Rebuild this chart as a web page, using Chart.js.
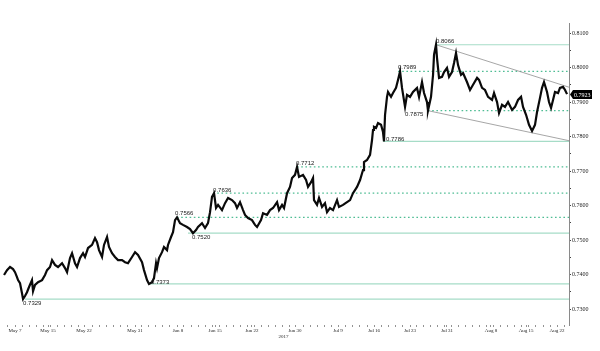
<!DOCTYPE html>
<html>
<head>
<meta charset="utf-8">
<script src="https://cdn.jsdelivr.net/npm/chart.js@4"></script>
<style>
  html, body { margin: 0; padding: 0; background: #fff; }
  #c { display: block; }
</style>
</head>
<body>
<canvas id="c" width="600" height="351"></canvas>
<script>
// ---- DATA (x = trading-day index from May 7, 2017; y = price) ----
const days = [-1.56,-1.14,-0.71,-0.28,0,0.28,0.43,0.71,0.99,1.14,1.42,1.70,1.99,2.41,2.56,2.84,3.27,3.84,4.26,4.55,4.97,5.26,5.68,6.11,6.68,7.10,7.39,7.81,8.10,8.52,8.81,9.23,9.66,9.94,10.37,10.94,11.36,11.65,11.93,12.36,12.64,13.07,13.35,13.78,14.20,14.63,15.20,15.63,16.05,16.62,17.05,17.47,18.04,18.32,18.75,19.03,19.46,19.74,20.03,20.17,20.45,20.88,21.16,21.59,21.73,22.16,22.44,22.73,23.01,23.44,23.86,24.43,24.86,25.28,25.71,25.99,26.56,26.99,27.41,27.70,27.98,28.27,28.55,28.84,29.40,29.83,30.26,30.82,31.25,31.53,31.96,32.39,32.67,33.10,33.66,34.09,34.38,34.94,35.23,35.80,36.22,36.65,37.22,37.50,37.93,38.21,38.64,39.06,39.35,39.77,40.06,40.34,40.91,41.34,41.62,42.05,42.33,42.47,42.90,43.18,43.61,44.03,44.32,44.74,45.17,45.74,46.02,46.59,47.16,47.59,48.01,48.58,49.01,49.43,49.57,50.00,50.43,50.71,50.85,50.99,51.28,51.56,51.99,52.27,52.41,52.56,52.84,52.98,53.41,53.69,54.12,54.40,54.69,54.97,55.40,55.68,56.11,56.53,57.10,57.39,57.81,58.10,58.52,58.66,59.09,59.38,59.52,59.80,59.94,60.23,60.65,60.94,61.36,61.65,62.07,62.36,62.64,62.93,63.35,63.64,64.20,64.63,65.06,65.63,65.91,66.34,66.76,67.19,67.76,68.04,68.47,68.75,69.18,69.60,70.03,70.60,71.02,71.45,71.88,72.16,72.59,73.01,73.44,73.86,74.15,74.57,74.86,75.14,75.57,75.85,76.14,76.42,76.70,77.13,77.41,77.84,78.13,78.41];
const prices = [0.7399,0.7413,0.7422,0.7416,0.7407,0.7393,0.7384,0.7375,0.7346,0.7329,0.7338,0.7349,0.7364,0.7384,0.7352,0.7370,0.7378,0.7384,0.7399,0.7413,0.7422,0.7442,0.7428,0.7422,0.7433,0.7419,0.7407,0.7448,0.7462,0.7433,0.7422,0.7448,0.7462,0.7451,0.7477,0.7486,0.7506,0.7494,0.7471,0.7451,0.7486,0.7509,0.7480,0.7462,0.7451,0.7442,0.7442,0.7436,0.7433,0.7451,0.7465,0.7457,0.7436,0.7413,0.7384,0.7373,0.7378,0.7390,0.7433,0.7419,0.7448,0.7465,0.7480,0.7471,0.7486,0.7509,0.7523,0.7558,0.7566,0.7549,0.7544,0.7538,0.7532,0.7520,0.7529,0.7538,0.7549,0.7535,0.7549,0.7581,0.7625,0.7636,0.7593,0.7602,0.7587,0.7607,0.7622,0.7616,0.7607,0.7593,0.7610,0.7587,0.7573,0.7564,0.7558,0.7544,0.7538,0.7558,0.7578,0.7573,0.7587,0.7593,0.7610,0.7587,0.7602,0.7593,0.7636,0.7654,0.7680,0.7689,0.7712,0.7683,0.7689,0.7674,0.7654,0.7668,0.7680,0.7616,0.7602,0.7622,0.7596,0.7607,0.7581,0.7593,0.7587,0.7616,0.7596,0.7602,0.7610,0.7616,0.7636,0.7654,0.7674,0.7703,0.7726,0.7732,0.7747,0.7790,0.7819,0.7828,0.7825,0.7839,0.7834,0.7813,0.7786,0.7863,0.7915,0.7929,0.7915,0.7926,0.7941,0.7964,0.7989,0.7941,0.7886,0.7921,0.7915,0.7929,0.7941,0.7915,0.7958,0.7926,0.7900,0.7875,0.7915,0.7979,0.8037,0.8066,0.8028,0.7970,0.7973,0.7987,0.7999,0.7973,0.7987,0.8013,0.8042,0.8007,0.7979,0.7984,0.7958,0.7935,0.7950,0.7970,0.7964,0.7941,0.7935,0.7915,0.7906,0.7926,0.7900,0.7868,0.7892,0.7886,0.7900,0.7877,0.7886,0.7906,0.7915,0.7886,0.7863,0.7834,0.7816,0.7834,0.7871,0.7912,0.7941,0.7958,0.7929,0.7900,0.7883,0.7906,0.7929,0.7926,0.7941,0.7944,0.7935,0.7923];

const xTickDays   = [0, 4.69, 9.80, 17.05, 23.15, 28.41, 33.66, 39.77, 45.88, 51.0, 56.11, 61.36, 67.61, 72.59, 76.99];
const xTickLabels = ['May 7','May 15','May 22','May 31','Jun 8','Jun 15','Jun 22','Jun 30','Jul 9','Jul 16','Jul 23','Jul 31','Aug 8','Aug 15','Aug 22'];
const yearLabel = '2017';

const yTickValues = [0.7300,0.7350,0.7400,0.7450,0.7500,0.7550,0.7600,0.7650,0.7700,0.7750,0.7800,0.7850,0.7900,0.7950,0.8000,0.8050,0.8100];

// support / resistance levels
const levelValues    = [0.7329, 0.7373, 0.7566, 0.7520, 0.7636, 0.7712, 0.7786, 0.7989, 0.7875, 0.8066];
const levelStartDays = [1.42,   19.03,  23.01,  24.57,  28.13,  40.06,  52.27,  54.40,  58.66,  59.80];
const levelSolid     = [true,   true,   false,  true,   false,  false,  true,   false,  false,  true];
const levelLabelDays = [1.14,   19.3,   22.73,  25.14,  28.13,  39.91,  52.7,   54.4,   55.4,   59.8];
// trend channel
const channelUpper = [[59.80, 0.8066], [78.69, 0.7943]];
const channelLower = [[58.66, 0.7875], [78.69, 0.7788]];

const lastPrice = prices[prices.length - 1];

// ---- STYLE / LAYOUT ----
const X_MIN = -1.85, X_MAX = 78.69;
const Y_MIN = 0.7254, Y_MAX = 0.8129;
const labelDy = [4, -2, -3.5, 4, -3, -3.5, -2, -3.5, 3.5, -3]; // text centre offset from line (px)

const datasets = [];
datasets.push({
  type: 'line',
  data: days.map((d, i) => ({ x: d, y: prices[i] })),
  borderColor: '#0a0a0a',
  borderWidth: 2.2,
  pointRadius: 0,
  tension: 0,
  order: 0
});
levelValues.forEach((v, i) => {
  datasets.push({
    type: 'line',
    data: [{ x: levelStartDays[i], y: v }, { x: X_MAX, y: v }],
    borderColor: levelSolid[i] ? '#a6dcc7' : '#4fbd94',
    borderWidth: levelSolid[i] ? 1.2 : 1.2,
    borderDash: levelSolid[i] ? [] : [1.6, 2.6],
    pointRadius: 0,
    order: 2
  });
});
[channelUpper, channelLower].forEach(ch => {
  datasets.push({
    type: 'line',
    data: ch.map(p => ({ x: p[0], y: p[1] })),
    borderColor: '#8f8f8f',
    borderWidth: 0.8,
    pointRadius: 0,
    order: 1
  });
});

const annotate = {
  id: 'annotate',
  afterDatasetsDraw(chart) {
    const ctx = chart.ctx, xs = chart.scales.x, ys = chart.scales.y;
    ctx.save();
    ctx.font = '6px "Liberation Sans", Arial, sans-serif';
    ctx.fillStyle = '#222';
    ctx.textBaseline = 'middle';
    ctx.textAlign = 'left';
    levelValues.forEach((v, i) => {
      const x = xs.getPixelForValue(levelLabelDays[i]);
      const y = ys.getPixelForValue(v) + labelDy[i];
      ctx.fillText(v.toFixed(4), x, y);
    });
    ctx.restore();
  },
  afterDraw(chart) {
    const ctx = chart.ctx, ys = chart.scales.y, area = chart.chartArea;
    ctx.save();
    const y = Math.round(ys.getPixelForValue(lastPrice)) + 0.5;
    const x0 = area.right + 1;
    ctx.fillStyle = '#000';
    ctx.beginPath();
    ctx.moveTo(x0, y);
    ctx.lineTo(x0 + 3, y - 4.5);
    ctx.lineTo(x0 + 22, y - 4.5);
    ctx.lineTo(x0 + 22, y + 4.5);
    ctx.lineTo(x0 + 3, y + 4.5);
    ctx.closePath();
    ctx.fill();
    ctx.fillStyle = '#fff';
    ctx.font = '6px "Liberation Serif", serif';
    ctx.textBaseline = 'middle';
    ctx.textAlign = 'left';
    ctx.fillText(lastPrice.toFixed(4), x0 + 4, y + 0.5);
    ctx.fillStyle = '#222';
    ctx.font = '5px "Liberation Serif", serif';
    ctx.textAlign = 'center';
    ctx.fillText(yearLabel, (area.left + area.right) / 2 - 2, 337);
    ctx.restore();
  }
};

new Chart(document.getElementById('c'), {
  type: 'line',
  data: { datasets },
  options: {
    responsive: false,
    devicePixelRatio: 1,
    animation: false,
    events: [],
    layout: { padding: { top: 23, left: 2, right: 0, bottom: 0 } },
    plugins: { legend: { display: false }, tooltip: { enabled: false } },
    scales: {
      x: {
        type: 'linear',
        min: X_MIN, max: X_MAX,
        afterFit(s) { s.height = 26; },
        afterBuildTicks(s) {
          const t = [];
          for (let d = -1; d <= 78; d++) {
            if (xTickDays.every(v => Math.abs(v - d) > 0.3)) t.push({ value: d });
          }
          xTickDays.forEach(v => t.push({ value: v }));
          t.sort((a, b) => a.value - b.value);
          s.ticks = t;
        },
        border: { display: false },
        grid: { drawOnChartArea: false, drawTicks: true, tickLength: 2, color: '#777', lineWidth: 0.8 },
        ticks: {
          autoSkip: false, maxRotation: 0, padding: 1,
          color: '#222',
          font: { family: '"Liberation Serif", serif', size: 5 },
          callback(v) {
            const i = xTickDays.indexOf(v);
            return i >= 0 ? xTickLabels[i] : '';
          }
        }
      },
      y: {
        type: 'linear',
        position: 'right',
        min: Y_MIN, max: Y_MAX,
        afterFit(s) { s.width = 31; },
        afterBuildTicks(s) { s.ticks = yTickValues.map(v => ({ value: v })); },
        border: { display: true, color: '#8a8a8a', width: 1 },
        grid: { drawOnChartArea: false, drawTicks: true, tickLength: 2, color: '#444' },
        ticks: {
          padding: 1,
          color: '#222',
          font: { family: '"Liberation Serif", serif', size: 6 },
          callback(v) {
            const k = Math.round(v * 10000);
            return k % 100 === 0 ? (k / 10000).toFixed(4) : '';
          }
        }
      }
    }
  },
  plugins: [annotate]
});
</script>
</body>
</html>
